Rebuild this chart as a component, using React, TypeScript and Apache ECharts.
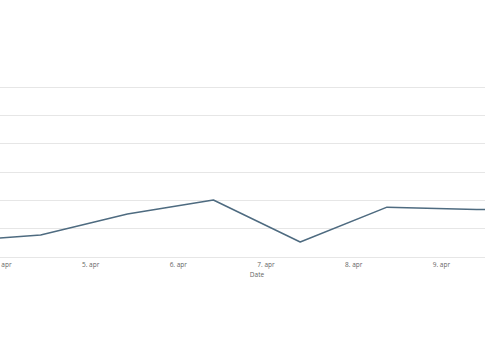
import React, { useEffect, useRef } from "react";
import * as echarts from "echarts";

// x values are April day numbers (fractional day = time of day)
const days = [3.4, 4.43, 5.42, 6.4, 7.39, 8.38, 9.4, 10.4];
const values = [2.65, 3.9, 7.6, 10.05, 2.65, 8.8, 8.4, 8.4];
const tickDays = [4, 5, 6, 7, 8, 9];
const axisTitle = "Date";

export default function App() {
  const ref = useRef<HTMLDivElement>(null);
  useEffect(() => {
    if (!ref.current) return;
    const chart = echarts.init(ref.current, undefined, { renderer: "svg" });
    const pxPerDay = 87.7;
    const xMin = 4 - 2.9 / pxPerDay;
    const xMax = xMin + 514 / pxPerDay;
    chart.setOption({
      animation: false,
      backgroundColor: "#ffffff",
      grid: {
        left: 0,
        right: -29,
        top: 87,
        bottom: 103,
        containLabel: false,
        outerBoundsMode: "none",
      },
      xAxis: {
        type: "value",
        min: xMin,
        max: xMax,
        name: axisTitle,
        nameLocation: "middle",
        nameGap: 14,
        nameTextStyle: { color: "#666666", fontSize: 6.5, fontFamily: "Open Sans" },
        axisLine: { show: true, lineStyle: { color: "#e6e6e6", width: 1 } },
        axisTick: { show: false },
        splitLine: { show: false },
        axisLabel: {
          customValues: tickDays,
          formatter: (v: number) => `${v}. apr`,
          color: "#666666",
          fontSize: 6.5,
          fontFamily: "Open Sans",
          margin: 4,
          showMinLabel: true,
          showMaxLabel: true,
        },
      },
      yAxis: {
        type: "value",
        min: 0,
        max: 30,
        interval: 5,
        axisLine: { show: false },
        axisTick: { show: false },
        axisLabel: { show: false },
        splitLine: { show: true, lineStyle: { color: "#e6e6e6", width: 1 } },
      },
      series: [
        {
          type: "line",
          data: days.map((d, i) => [d, values[i]]),
          showSymbol: false,
          symbol: "none",
          lineStyle: { color: "#4e6b80", width: 1.5 },
          clip: true,
        },
      ],
    });
    return () => chart.dispose();
  }, []);
  return <div ref={ref} style={{ width: 485, height: 360, position: "absolute", left: 0, top: 0 }} />;
}
